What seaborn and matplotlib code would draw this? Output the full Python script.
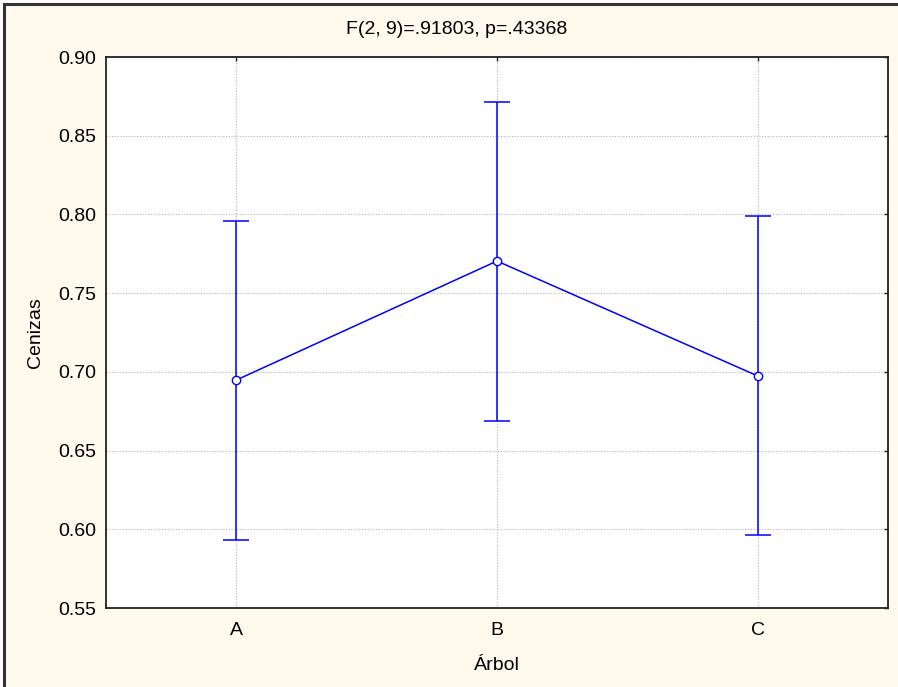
import numpy as np
import pandas as pd
import seaborn as sns
import matplotlib.pyplot as plt
from matplotlib.patches import Rectangle

# values
arbol = ['A', 'B', 'C']
media = [0.6948, 0.7704, 0.6974]
lim_inf = [0.5932, 0.6688, 0.5964]
lim_sup = [0.7958, 0.8714, 0.7990]
yticks = [0.55, 0.60, 0.65, 0.70, 0.75, 0.80, 0.85, 0.90]

df = pd.DataFrame({'Árbol': arbol, 'Cenizas': media})

sns.set_style('white')
plt.rcParams['font.family'] = ['Liberation Sans', 'DejaVu Sans']
plt.rcParams['font.size'] = 14
plt.rcParams['text.color'] = 'black'
plt.rcParams['axes.labelcolor'] = 'black'
plt.rcParams['xtick.color'] = 'black'
plt.rcParams['ytick.color'] = 'black'

fig = plt.figure(figsize=(8.98, 6.87), dpi=100, facecolor='white')
# cream panel with the dark frame on left/top
fig.patches.append(Rectangle((4 / 898, -0.1), 1.2, 1.1 - 4 / 687,
                             transform=fig.transFigure, facecolor='#fff9ee',
                             edgecolor='#333333', linewidth=2.2, zorder=-5))

ax = fig.add_axes([106 / 898, 1 - 608 / 687, 782 / 898, 551 / 687])
ax.set_zorder(2)
ax.set_facecolor('white')

# error bars
yerr = [np.array(media) - np.array(lim_inf), np.array(lim_sup) - np.array(media)]
ax.errorbar(range(len(arbol)), media, yerr=yerr, fmt='none', ecolor='#0000ff',
            elinewidth=1.1, capsize=9.5, capthick=1.1, zorder=2)

sns.pointplot(data=df, x='Árbol', y='Cenizas', errorbar=None, color='#0000ff',
              markers='o', linestyles='-', ax=ax, zorder=3,
              markersize=6, markerfacecolor='white', markeredgecolor='#0000ff',
              markeredgewidth=1.0, linewidth=1.1)

ax.set_xlim(-0.5, 2.5)
ax.set_ylim(0.55, 0.90)
ax.set_yticks(yticks)
ax.set_yticklabels([f'{v:.2f}' for v in yticks])
ax.grid(True, linestyle=(0, (1, 1.5)), color='#b4b4b4', linewidth=0.8)
ax.set_axisbelow(True)

ax.tick_params(direction='in', length=3, width=1, top=True, right=True,
               labelsize=14, color='#222222')
ax.tick_params(axis='x', pad=10)
ax.tick_params(axis='y', pad=7)
for s in ax.spines.values():
    s.set_color('#222222')
    s.set_linewidth(1.3)

ax.set_xlabel('Árbol', fontsize=14, labelpad=13)
ax.set_ylabel('Cenizas', fontsize=14, labelpad=10)
fig.text(457 / 898, 1 - 29 / 687, 'F(2, 9)=.91803, p=.43368',
         ha='center', va='center', fontsize=14)

fig.savefig('out.png', dpi=100)
